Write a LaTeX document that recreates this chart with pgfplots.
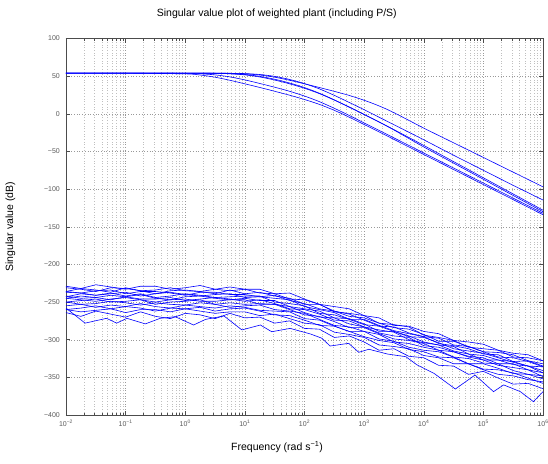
\documentclass[border=0pt]{standalone}
\usepackage{fontspec}
\setmainfont{Liberation Sans}
\usepackage{pgfplots}
\usepackage{pgfplotstable}
\pgfplotsset{compat=1.18}

\pgfplotstableread{
x A B C D E F
0.01 54 54 54 54 54 54
0.1 54 54 54 54 54 54
1 54 54 54 54 53.7 53.0
1.778 54 54 53.9 53.9 53.1 51.5
3.162 53.9 53.9 53.7 53.8 51.7 48.6
5.623 53.7 53.8 53.1 53.3 49.0 44.5
10 53.0 53.4 51.7 52.2 45.0 39.8
17.78 51.5 52.2 48.9 49.7 40.3 35.0
31.62 48.6 49.7 44.8 45.9 35.3 29.9
56.23 44.5 45.6 39.8 40.9 29.9 24.7
100 39.8 40.1 33.9 34.8 23.6 19.0
177.8 34.9 33.1 26.8 27.3 16.1 12.5
316.2 29.8 24.5 18.2 18.5 7.3 4.6
562.3 24.4 15.1 8.8 9.0 -2.2 -4.5
1000 18.0 5.5 -0.9 -0.9 -12.1 -14.2
1778 10.5 -4.5 -10.9 -10.8 -22 -24
3162 1.5 -14.5 -21 -21.5 -32 -34
10000 -19 -34.5 -42 -44 -52 -54
31623 -38.5 -55 -63.5 -65.5 -72 -74
100000 -58 -75 -85 -87 -92 -94
316228 -77.5 -95 -106.5 -108.5 -112 -114
1000000 -97 -114.5 -128 -130 -132 -134
}\topcurves

\pgfplotstableread{
x c1 c2 c3 c4 c5 c6 c7 c8 c9 c10 c11 c12 c13 c14 cY
0.01 -229 -231 -236 -237 -236 -243 -242 -245 -245 -250 -250 -255 -260 -260 -264
0.01778 -232 -233 -232 -238 -238 -239 -245 -242 -247 -248 -253 -253 -258 -263 -269
0.03162 -227 -236 -234 -235 -241 -241 -244 -244 -249 -246 -252 -257 -255 -261 -262
0.05623 -230 -231 -237 -234 -239 -238 -241 -247 -246 -250 -249 -254 -259 -259 -266
0.1 -233 -232 -231 -239 -237 -242 -243 -243 -244 -249 -251 -256 -256 -264 -270
0.1778 -229 -235 -235 -236 -242 -239 -240 -246 -247 -247 -254 -252 -258 -260 -263
0.3162 -229 -234 -239 -236 -239 -244 -245 -246 -250 -253 -251 -256 -262 -260 -269
0.5623 -233 -231 -235 -238 -237 -242 -247 -244 -247 -250 -253 -258 -258 -263 -272
1 -231 -235 -234 -241 -240 -239 -243 -248 -246 -249 -254 -254 -259 -259 -265
1.778 -228 -236 -236 -237 -242 -241 -242 -246 -249 -247 -251 -256 -257 -262 -267
3.162 -233 -233 -239 -237 -240 -244 -245 -244 -249 -253 -253 -258 -262 -265 -272
5.623 -230 -235 -234 -240 -239 -243 -247 -246 -247 -251 -257 -255 -259 -263 -265
10 -233 -233 -239 -240 -244 -242 -245 -249 -247 -253 -255 -257 -258 -263 -271
17.78 -233 -238 -237 -243 -243 -242 -248 -247 -253 -252 -254 -261 -262 -268 -270
31.62 -239 -239 -242 -241 -245 -250 -248 -252 -253 -253 -260 -262 -267 -266 -278
56.23 -238 -246 -245 -248 -247 -252 -256 -259 -256 -260 -262 -263 -268 -272 -275
100 -246 -247 -253 -252 -256 -255 -259 -260 -264 -267 -265 -272 -274 -278 -285
177.8 -253 -253 -253 -259 -260 -265 -262 -266 -270 -269 -273 -274 -281 -280 -286
316.2 -256 -263 -262 -262 -264 -267 -271 -274 -271 -276 -281 -282 -282 -290 -297
562.3 -259 -265 -269 -266 -273 -273 -272 -275 -279 -284 -283 -289 -289 -293 -295
1000 -268 -268 -271 -274 -273 -280 -279 -283 -283 -284 -289 -289 -296 -297 -303
1778 -271 -278 -278 -282 -281 -282 -289 -287 -291 -292 -293 -299 -301 -307 -314
3162 -281 -280 -284 -283 -288 -289 -289 -290 -295 -299 -303 -302 -304 -309 -312
5623 -282 -283 -286 -291 -292 -296 -295 -300 -297 -301 -305 -310 -313 -312 -322
10000 -289 -294 -293 -296 -296 -297 -303 -304 -308 -305 -310 -314 -316 -321 -324
17783 -292 -297 -302 -298 -305 -304 -307 -307 -310 -314 -314 -316 -323 -324 -334
31623 -301 -301 -302 -307 -308 -312 -309 -315 -316 -316 -323 -323 -324 -332 -335
56234 -303 -310 -309 -309 -312 -315 -319 -319 -322 -323 -325 -332 -332 -332 -346
100000 -306 -312 -316 -316 -319 -318 -321 -327 -324 -327 -331 -332 -339 -340 -342
177828 -314 -314 -317 -323 -320 -324 -327 -327 -332 -334 -332 -338 -340 -346 -351
316228 -318 -323 -320 -324 -329 -330 -329 -333 -332 -337 -341 -345 -344 -348 -359
562341 -320 -324 -328 -329 -328 -335 -335 -335 -340 -340 -346 -346 -351 -353 -358
1000000 -328 -328 -332 -336 -335 -336 -341 -344 -344 -349 -348 -352 -358 -356 -365
}\noisecurves

\definecolor{mblue}{RGB}{0,0,255}
\pgfplotsset{bl/.style={color=mblue, line width=0.6pt, mark=none}}

\begin{document}
\begin{tikzpicture}
\useasboundingbox (-66pt,-48pt) rectangle (482pt,415pt);
\begin{axis}[
  scale only axis,
  width=477pt, height=376.5pt,
  at={(0,0)}, anchor=south west,
  xmode=log,
  xmin=1e-2, xmax=1e6,
  ymin=-400, ymax=100,
  xtick={1e-2,1e-1,1e0,1e1,1e2,1e3,1e4,1e5,1e6},
  xticklabels={10\textsuperscript{−2},10\textsuperscript{−1},10\textsuperscript{0},10\textsuperscript{1},10\textsuperscript{2},10\textsuperscript{3},10\textsuperscript{4},10\textsuperscript{5},10\textsuperscript{6}},
  ytick={-400,-350,-300,-250,-200,-150,-100,-50,0,50,100},
  yticklabels={−400,−350,−300,−250,−200,−150,−100,−50,0,50,100},
  xmajorgrids, ymajorgrids, xminorgrids,
  major grid style={black!40, line width=0.4pt, dash pattern=on 0.5pt off 2.2pt},
  minor grid style={black!25, line width=0.4pt, dash pattern=on 0.5pt off 2.2pt},
  axis line style={black!70, line width=0.5pt},
  tick style={black!70, line width=0.5pt},
  major tick length=4.5pt,
  minor tick length=2.5pt,
  tick align=inside,
  ticklabel style={font=\fontsize{7}{8}\selectfont, text=black!65},
  yticklabel style={anchor=east, inner sep=0pt, xshift=-6pt},
  xticklabel style={anchor=north, inner sep=0pt, yshift=-5pt},
  title={Singular value plot of weighted plant (including P/S)},
  title style={font=\fontsize{10.5}{12}\selectfont, at={(axis description cs:0.442,1.049)}, anchor=center},
  xlabel={Frequency (rad s\textsuperscript{−1})},
  xlabel style={font=\fontsize{10.5}{12}\selectfont, at={(axis description cs:0.4425,-0.085)}, anchor=center},
  ylabel={Singular value (dB)},
  ylabel style={font=\fontsize{10.5}{12}\selectfont, at={(axis description cs:-0.1164,0.5)}, anchor=center, rotate=0},
]
\addplot[bl, smooth] table[x=x, y=A] {\topcurves};
\addplot[bl, smooth] table[x=x, y=B] {\topcurves};
\addplot[bl, smooth] table[x=x, y=C] {\topcurves};
\addplot[bl, smooth] table[x=x, y=D] {\topcurves};
\addplot[bl, smooth] table[x=x, y=E] {\topcurves};
\addplot[bl, smooth] table[x=x, y=F] {\topcurves};

\addplot[bl] table[x=x, y=c1] {\noisecurves};
\addplot[bl] table[x=x, y=c2] {\noisecurves};
\addplot[bl] table[x=x, y=c3] {\noisecurves};
\addplot[bl] table[x=x, y=c4] {\noisecurves};
\addplot[bl] table[x=x, y=c5] {\noisecurves};
\addplot[bl] table[x=x, y=c6] {\noisecurves};
\addplot[bl] table[x=x, y=c7] {\noisecurves};
\addplot[bl] table[x=x, y=c8] {\noisecurves};
\addplot[bl] table[x=x, y=c9] {\noisecurves};
\addplot[bl] table[x=x, y=c10] {\noisecurves};
\addplot[bl] table[x=x, y=c11] {\noisecurves};
\addplot[bl] table[x=x, y=c12] {\noisecurves};
\addplot[bl] table[x=x, y=c13] {\noisecurves};
\addplot[bl] table[x=x, y=c14] {\noisecurves};
\addplot[bl] table[x=x, y=cY] {\noisecurves};

\addplot[bl] coordinates {
(0.01,-258) (0.0209,-278) (0.0479,-271.6) (0.0708,-278) (0.105,-271.6)
(0.214,-279) (0.38,-271.6) (0.676,-269.4) (1.38,-280.5) (2.19,-273)
(4.47,-268.5) (8.91,-287) (18.2,-280.5) (28.2,-289.4) (57.5,-285)
(126,-292.4) (195,-298) (269,-308.4) (550,-304.8) (813,-316.7)
(1202,-312.7) (2455,-319) (5012,-322.6) (7762,-333.6) (14791,-344.6)
(33884,-365.5) (72444,-346.9) (147911,-369) (218776,-360) (416869,-369)
(691831,-382.3) (1000000,-369)
};
\end{axis}
\end{tikzpicture}
\end{document}
